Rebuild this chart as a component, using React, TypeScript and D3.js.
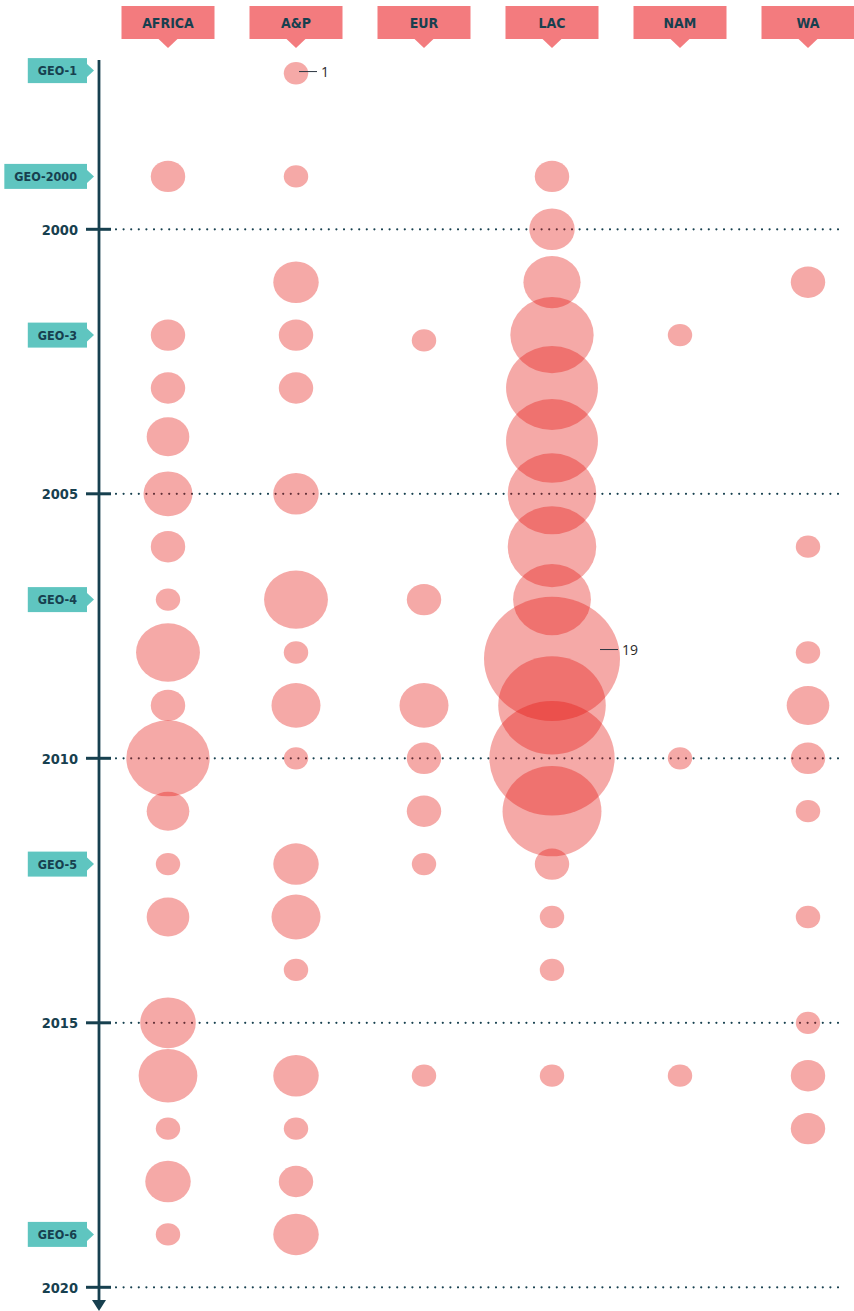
import React, { useEffect, useRef } from 'react';
import * as d3 from 'd3';

// ---------- data ----------
const REGIONS = ['AFRICA', 'A&P', 'EUR', 'LAC', 'NAM', 'WA'];
const YEAR_TICKS = [2000, 2005, 2010, 2015, 2020];
const GEO_REPORTS = ['GEO-1', 'GEO-2000', 'GEO-3', 'GEO-4', 'GEO-5', 'GEO-6'];
const GEO_YEARS = [1997, 1999, 2002, 2007, 2012, 2019];

// [year, number of assessments]
const AFRICA: [number, number][] = [
  [1999, 1.8], [2002, 1.8], [2003, 1.8], [2003.92, 2.6], [2005, 3.3], [2006, 1.8],
  [2007, 1], [2008, 5.2], [2009, 1.8], [2010, 8.2], [2011, 2.6], [2012, 1],
  [2013, 2.6], [2015, 4.1], [2016, 4.5], [2017, 1], [2018, 2.9], [2019, 1],
];
const AP: [number, number][] = [
  [1997.05, 1], [1999, 1], [2001, 2.9], [2002, 1.8], [2003, 1.8], [2005, 2.9],
  [2007, 5.2], [2008, 1], [2009, 3.3], [2010, 1], [2012, 2.9], [2013, 3.3],
  [2014, 1], [2016, 2.9], [2017, 1], [2018, 1.8], [2019, 2.9],
];
const EUR: [number, number][] = [
  [2002.1, 1], [2007, 1.8], [2009, 3.3], [2010, 1.8], [2011, 1.8], [2012, 1], [2016, 1],
];
const LAC: [number, number][] = [
  [1999, 1.8], [2000, 2.9], [2001, 4.3], [2002, 8.2], [2003, 9.7], [2004, 9.7],
  [2005, 9.1], [2006, 9.1], [2007, 7.3], [2008.12, 19], [2009, 12.7], [2010, 16.5],
  [2011, 11], [2012, 1.8], [2013, 1], [2014, 1], [2016, 1],
];
const NAM: [number, number][] = [[2002, 1], [2010, 1], [2016, 1]];
const WA: [number, number][] = [
  [2001, 1.8], [2006, 1], [2008, 1], [2009, 2.6], [2010, 1.8], [2011, 1],
  [2013, 1], [2015, 1], [2016, 1.8], [2017, 1.8],
];

const ANNOTATIONS = [
  { region: 'A&P', year: 1997.05, label: '1' },
  { region: 'LAC', year: 2008.12, label: '19' },
];

const SERIES_LIST = [AFRICA, AP, EUR, LAC, NAM, WA];

// ---------- styling ----------
const W = 854;
const H = 1311;
const NAVY = '#17404F';
const HEADER_FILL = '#F37B7E';
const GEO_FILL = '#5FC5C0';
const BUBBLE_FILL = '#E5170F';
const COND = "'DejaVu Sans Condensed', 'DejaVu Sans', sans-serif";

export default function App() {
  const ref = useRef<SVGSVGElement | null>(null);

  useEffect(() => {
    const svg = d3.select(ref.current);
    svg.selectAll('*').remove();

    const x = d3.scalePoint<string>().domain(REGIONS).range([168, 808]);
    const y = d3.scaleLinear().domain([2000, 2020]).range([229.3, 1287.3]);
    const r = d3.scalePow().exponent(0.583).domain([0, 19]).range([0, 68]);
    const SQUASH = 1 / 1.095;

    const rows = REGIONS.flatMap((reg, i) =>
      SERIES_LIST[i].map(([yr, v]) => ({ region: reg, year: yr, value: v }))
    );

    // dotted grid lines
    const gGrid = svg.append('g');
    gGrid.selectAll('line').data(YEAR_TICKS).join('line')
      .attr('x1', 116).attr('x2', 843)
      .attr('y1', (d) => y(d)).attr('y2', (d) => y(d))
      .attr('stroke', NAVY).attr('stroke-width', 2.2)
      .attr('stroke-linecap', 'round')
      .attr('stroke-dasharray', '0 7.6');

    // bubbles
    svg.append('g').selectAll('ellipse').data(rows).join('ellipse')
      .attr('cx', (d) => x(d.region)!)
      .attr('cy', (d) => y(d.year))
      .attr('rx', (d) => r(d.value))
      .attr('ry', (d) => r(d.value) * SQUASH)
      .attr('fill', BUBBLE_FILL)
      .attr('fill-opacity', 0.37);

    // axis
    const axisTop = y(1996.8);
    const axisBottom = 1300;
    svg.append('line')
      .attr('x1', 99).attr('x2', 99).attr('y1', axisTop).attr('y2', axisBottom)
      .attr('stroke', NAVY).attr('stroke-width', 2.8);
    svg.append('path')
      .attr('d', `M92,${axisBottom} L106,${axisBottom} L99,${H} Z`)
      .attr('fill', NAVY);

    // ticks and labels
    const gTicks = svg.append('g');
    gTicks.selectAll('line').data(YEAR_TICKS).join('line')
      .attr('x1', 86).attr('x2', 111)
      .attr('y1', (d) => y(d)).attr('y2', (d) => y(d))
      .attr('stroke', NAVY).attr('stroke-width', 3);
    gTicks.selectAll('text').data(YEAR_TICKS).join('text')
      .attr('x', 78).attr('y', (d) => y(d))
      .attr('dy', '0.36em')
      .attr('text-anchor', 'end')
      .attr('font-family', COND).attr('font-weight', 'bold')
      .attr('font-size', 14.5).attr('fill', NAVY)
      .text((d) => String(d));

    // GEO tags
    GEO_REPORTS.forEach((lab, i) => {
      const cy = y(GEO_YEARS[i]);
      const g = svg.append('g');
      const rect = g.append('rect');
      const ptr = g.append('path');
      const t = g.append('text')
        .attr('y', cy).attr('dy', '0.36em')
        .attr('text-anchor', 'middle')
        .attr('font-family', COND).attr('font-weight', 'bold')
        .attr('font-size', 12.5).attr('fill', NAVY)
        .text(lab);
      const tw = (t.node() as SVGTextElement).getComputedTextLength();
      const right = 87;
      const w = Math.max(54, tw + 20);
      const left = right - w;
      rect.attr('x', left).attr('y', cy - 12.5).attr('width', w).attr('height', 25)
        .attr('fill', GEO_FILL);
      ptr.attr('d', `M${right},${cy - 6.5} L${right + 7},${cy} L${right},${cy + 6.5} Z`)
        .attr('fill', GEO_FILL);
      t.attr('x', left + w / 2);
    });

    // region headers
    const gHead = svg.append('g');
    REGIONS.forEach((reg) => {
      const cx = x(reg)!;
      gHead.append('rect')
        .attr('x', cx - 46.5).attr('y', 6).attr('width', 93).attr('height', 33)
        .attr('fill', HEADER_FILL);
      gHead.append('path')
        .attr('d', `M${cx - 9.5},39 L${cx + 9.5},39 L${cx},48 Z`)
        .attr('fill', HEADER_FILL);
      gHead.append('text')
        .attr('x', cx).attr('y', 22.5).attr('dy', '0.36em')
        .attr('text-anchor', 'middle')
        .attr('font-family', COND).attr('font-weight', 'bold')
        .attr('font-size', 14).attr('fill', NAVY)
        .text(reg);
    });

    // annotations
    const gAnn = svg.append('g');
    ANNOTATIONS.forEach((a) => {
      const row = rows.find((d) => d.region === a.region && d.year === a.year)!;
      const cx = x(row.region)!;
      const cy = y(row.year);
      const rx = r(row.value);
      const ly = cy - rx * SQUASH * 0.15;
      const x2 = cx + Math.max(rx - 2, 21);
      gAnn.append('line')
        .attr('x1', x2 - 18).attr('x2', x2).attr('y1', ly).attr('y2', ly)
        .attr('stroke', '#2B3540').attr('stroke-width', 1);
      gAnn.append('text')
        .attr('x', x2 + 4).attr('y', ly).attr('dy', '0.36em')
        .attr('font-family', "'Open Sans', sans-serif")
        .attr('font-size', 14).attr('fill', '#2B2B2B')
        .text(a.label);
    });
  }, []);

  return (
    <div style={{ position: 'absolute', left: 0, top: 0 }}>
      <svg ref={ref} width={W} height={H} style={{ display: 'block', background: '#fff' }} />
    </div>
  );
}
